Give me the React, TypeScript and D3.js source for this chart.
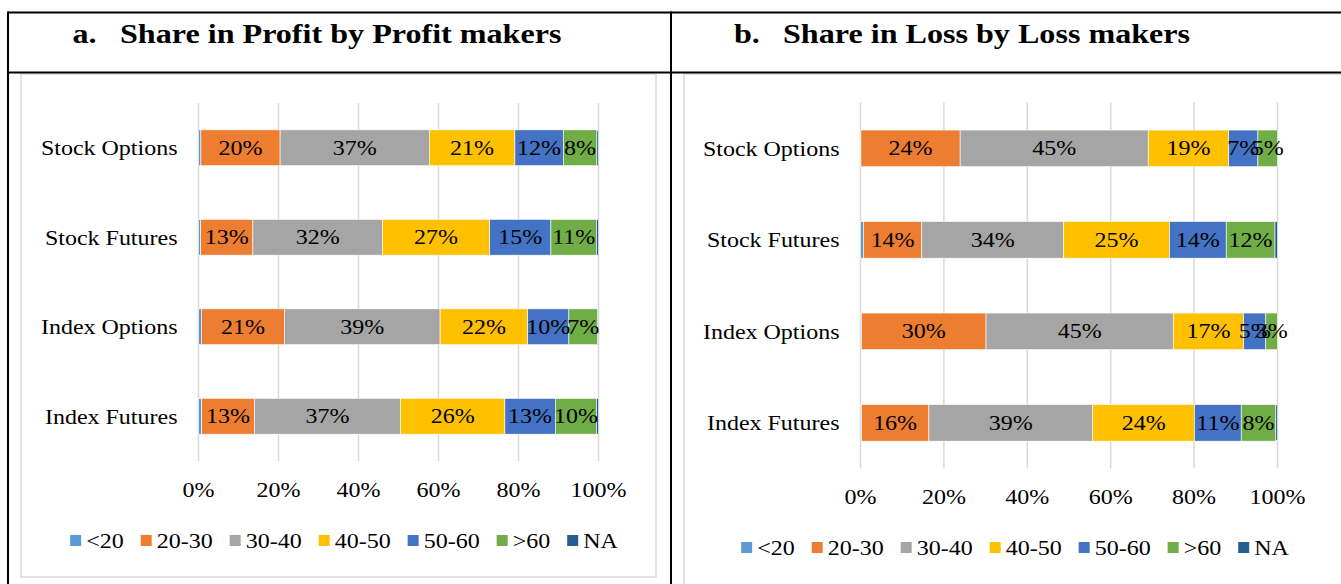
import React from 'react';
import * as d3 from 'd3';

const categories = ['Stock Options', 'Stock Futures', 'Index Options', 'Index Futures'];
const seriesKeys = ['<20', '20-30', '30-40', '40-50', '50-60', '>60', 'NA'];
const seriesColors = ['#5B9BD5', '#ED7D31', '#A5A5A5', '#FFC000', '#4472C4', '#70AD47', '#255E91'];
const ticks = [0, 20, 40, 60, 80, 100];

// share in profit by profit makers (%), one value per category
const profitUnder20 = [0.6, 0.55, 0.7, 0.8];
const profit20to30 = [19.8, 13.05, 20.8, 13.2];
const profit30to40 = [37.3, 32.4, 38.9, 36.5];
const profit40to50 = [21.4, 26.8, 21.9, 26.1];
const profit50to60 = [12.1, 15.3, 10.3, 12.6];
const profitOver60 = [8.4, 11.4, 7.2, 10.3];
const profitNA = [0.4, 0.5, 0.2, 0.5];

// share in loss by loss makers (%)
const lossUnder20 = [0.1, 0.7, 0.2, 0.2];
const loss20to30 = [23.8, 14.0, 29.9, 16.2];
const loss30to40 = [45.1, 34.0, 44.9, 39.3];
const loss40to50 = [19.3, 25.4, 16.9, 24.4];
const loss50to60 = [7.0, 13.6, 5.3, 11.2];
const lossOver60 = [4.7, 11.7, 2.8, 8.3];
const lossNA = [0.0, 0.6, 0.0, 0.4];

const profitSeries = [profitUnder20, profit20to30, profit30to40, profit40to50, profit50to60, profitOver60, profitNA];
const lossSeries = [lossUnder20, loss20to30, loss30to40, loss40to50, loss50to60, lossOver60, lossNA];

const FONT = "'Liberation Serif', 'Times New Roman', serif";
const SX = 1.2; // the source picture is a bit stretched sideways

let ctx: CanvasRenderingContext2D | null = null;
const measure = (t: string, size = 20) => {
  if (!ctx) ctx = document.createElement('canvas').getContext('2d');
  ctx!.font = `${size}px ${FONT}`;
  return ctx!.measureText(t).width * SX;
};

const SText = ({ x, y, anchor = 'start', size = 20, weight = 'normal', sx = SX, children }: any) => (
  <g transform={`translate(${x},${y}) scale(${sx},1)`}>
    <text textAnchor={anchor} fontSize={size} fontWeight={weight} fontFamily={FONT} fill="#000">
      {children}
    </text>
  </g>
);

const Panel = ({ series, x0, x1, y0, y1, tickY, legendY, legendCx }: any) => {
  const rows = categories.map((c, i) => {
    const r: any = { cat: c };
    seriesKeys.forEach((k, j) => (r[k] = series[j][i]));
    return r;
  });
  const stacked = d3.stack().keys(seriesKeys)(rows);
  const x = d3.scaleLinear().domain([0, 100]).range([x0, x1]);
  const y = d3.scaleBand().domain(categories).range([y0, y1]).paddingInner(0.6).paddingOuter(0.3);
  const bw = y.bandwidth();

  // legend layout
  const sq = 11;
  const gap = 5;
  const itemGap = 17;
  const widths = seriesKeys.map(k => sq + gap + measure(k));
  const total = d3.sum(widths) + itemGap * (seriesKeys.length - 1);
  let lx = legendCx - total / 2;
  const legendItems = seriesKeys.map((k, i) => {
    const item = { k, x: lx, color: seriesColors[i] };
    lx += widths[i] + itemGap;
    return item;
  });

  return (
    <g>
      {ticks.map(t => (
        <line key={t} x1={x(t)} x2={x(t)} y1={y0} y2={y1} stroke="#d9d9d9" strokeWidth={1.5} />
      ))}
      {stacked.map((s, si) => (
        <g key={s.key} fill={seriesColors[si]}>
          {s.map((d: any, i: number) => (
            <rect key={i} x={x(d[0])} y={y(categories[i])} width={Math.max(0, x(d[1]) - x(d[0]))} height={bw}
              stroke="#fff" strokeWidth={0.6} />
          ))}
        </g>
      ))}
      {stacked.map(s =>
        s.map((d: any, i: number) => {
          const v = d[1] - d[0];
          if (v < 1.5) return null;
          return (
            <SText key={s.key + i} x={x((d[0] + d[1]) / 2)} y={(y(categories[i]) as number) + bw / 2 + 7} anchor="middle">
              {`${Math.round(v)}%`}
            </SText>
          );
        })
      )}
      {categories.map(c => (
        <SText key={c} x={x0 - 21} y={(y(c) as number) + bw / 2 + 7.5} anchor="end">{c}</SText>
      ))}
      {ticks.map(t => (
        <SText key={t} x={x(t)} y={tickY} anchor="middle">{`${t}%`}</SText>
      ))}
      {legendItems.map(it => (
        <g key={it.k}>
          <rect x={it.x} y={legendY - 13} width={sq} height={sq} fill={it.color} />
          <SText x={it.x + sq + gap} y={legendY}>{it.k}</SText>
        </g>
      ))}
    </g>
  );
};

export default function App() {
  const W = 1341;
  const H = 584;
  return (
    <svg width={W} height={H} style={{ position: 'absolute', left: 0, top: 0, background: '#fff' }}>
      <rect x={0} y={0} width={W} height={H} fill="#fff" />
      {/* chart frames */}
      <rect x={21} y={74} width={635} height={503} fill="#fff" stroke="#d9d9d9" strokeWidth={1.5} />
      <rect x={684} y={74} width={670} height={530} fill="#fff" stroke="#d9d9d9" strokeWidth={1.5} />
      {/* table rules */}
      <line x1={8} x2={W} y1={12.5} y2={12.5} stroke="#000" strokeWidth={2} />
      <line x1={8} x2={W} y1={72.5} y2={72.5} stroke="#000" strokeWidth={2} />
      <line x1={8} x2={8} y1={11.5} y2={H} stroke="#000" strokeWidth={2} />
      <line x1={671} x2={671} y1={11.5} y2={H} stroke="#000" strokeWidth={2} />
      {/* titles */}
      <SText x={72.5} y={43} size={27} weight="bold" sx={1.19}>a.</SText>
      <SText x={120} y={43} size={27} weight="bold" sx={1.19}>Share in Profit by Profit makers</SText>
      <SText x={734} y={43} size={27} weight="bold" sx={1.19}>b.</SText>
      <SText x={783} y={43} size={27} weight="bold" sx={1.19}>Share in Loss by Loss makers</SText>

      <Panel series={profitSeries} x0={198.5} x1={598.5} y0={103} y1={461} tickY={497} legendY={548} legendCx={344} />
      <Panel series={lossSeries} x0={860.5} x1={1277.5} y0={102.6} y1={468.6} tickY={504} legendY={555} legendCx={1015} />
    </svg>
  );
}
